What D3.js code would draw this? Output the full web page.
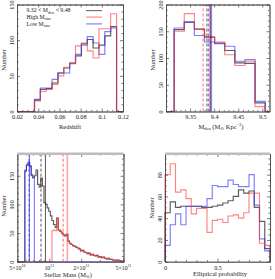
<!DOCTYPE html>
<html><head><meta charset="utf-8">
<script src="https://cdn.jsdelivr.net/npm/d3@7"></script>
<style>html,body{margin:0;padding:0;background:#fff;} svg{display:block;}</style>
</head><body>
<script>
// ---------------- DATA ----------------
// Panel 1: redshift histograms
const zBinStart = 0.0365, zBinWidth = 0.00553;
const zBlack = [16, 31, 32, 40, 54, 61, 68, 78, 95, 101, 89, 93, 106, 119];
const zRed   = [15, 28, 31, 38, 50, 62, 68, 92, 96, 85, 75, 116, 116, 137];
const zBlue  = [17, 33, 33, 45, 54, 54, 67, 80, 93, 105, 96, 80, 112, 117];
const zTicks = [0.02, 0.04, 0.06, 0.08, 0.10, 0.12];
const zTickLabels = ["0.02", "0.04", "0.06", "0.08", "0.1", "0.12"];
const zYTicks = [0, 50, 100, 150];

// Panel 2: density histograms
const dBinStart = 9.317, dBinWidth = 0.021;
const dBlack = [153, 167, 154, 139, 128, 114, 91, 90, 16];
const dRed   = [150, 183, 154, 139, 130, 106, 86, 94, 9];
const dBlue  = [156, 167, 142, 130, 127, 122, 94, 97, 19];
const dDashed = [{v: 9.377, c: "red"}, {v: 9.385, c: "black"}, {v: 9.388, c: "blue"}];
const dSolid  = [{v: 9.391, c: "red"}, {v: 9.3925, c: "black"}, {v: 9.3945, c: "blue"}];
const dTicks = [9.35, 9.40, 9.45, 9.50];
const dTickLabels = ["9.35", "9.4", "9.45", "9.5"];
const dYTicks = [0, 50, 100, 150, 200];

// Panel 3: stellar mass histograms (log10 bins)
const mLogStart = 10.77, mLogWidth = 0.015;
const mBlack = [158, 168, 172, 166, 150, 147, 150, 160, 135, 130, 146, 132, 103, 100, 94, 88, 80, 72,
  65, 60, 76, 55, 53, 50, 47, 45, 48, 36, 32, 30, 28, 27, 25, 24, 22, 19, 20, 17, 16, 14, 15, 12,
  13, 11, 10, 11, 8, 9, 7, 8, 6, 5, 6, 4, 4, 3, 3, 2, 3, 2, 1, 1];
const mBlueOffset = 0;
const mBlue = [160, 170, 174, 168, 152, 146];
const mRedOffset = 17;
const mRed = [54, 55, 54, 76, 55, 53, 50, 47, 45, 48, 36, 32, 30, 28, 27, 25, 24, 22, 19, 20,
  17, 16, 14, 15, 12, 13, 11, 10, 11, 8, 9, 7, 8, 6, 5, 6, 4, 4, 3, 3, 2, 3, 2, 1, 1];
const mDashed = [{v: 6.45e10, c: "blue"}, {v: 8.36e10, c: "black"}, {v: 1.35e11, c: "red"}];
const mSolid  = [{v: 6.5e10, c: "blue"}, {v: 9.2e10, c: "black"}, {v: 1.48e11, c: "red"}];
const mTicks = [5e10, 1e11, 2e11, 5e11];
const mTickLabels = [["5\u00d710", "10"], ["10", "11"], ["2\u00d710", "11"], ["5\u00d710", "11"]];
const mMinor = [6e10, 7e10, 8e10, 9e10, 3e11, 4e11];
const mYTicks = [0, 50, 100, 150];

// Panel 4: elliptical probability histograms
const pBinStart = 0, pBinWidth = 0.05;
const pBlack = [45, 55, 50, 51, 51, 51, 51, 50, 50, 51, 52, 54, 56, 60, 66, 63, 65, 50, 37, 12];
const pRed   = [80, 90, 64, 66, 58, 44, 49, 49, 27, 38, 39, 36, 42, 43, 40, 45, 63, 63, 17, 15];
const pBlue  = [15, 34, 44, 34, 51, 51, 51, 51, 58, 70, 69, 69, 75, 71, 69, 69, 80, 52, 21, 10];
const pTicks = [0, 0.5, 1];
const pTickLabels = ["0", "0.5", "1"];
const pYTicks = [0, 20, 40, 60, 80];

// ---------------- STYLE ----------------
const FONT = "'Liberation Serif', 'DejaVu Serif', serif";
const COL = {black: "#1e1e1e", red: "#ff3a3a", blue: "#2f2fff"};
const HOP = 0.62;
const FS = 6.2;
const TXT = "#1a1a1a";

const svg = d3.select("body").append("svg").attr("width", 275).attr("height", 279)
  .style("font-family", FONT);

function frame(g, x, y, o) {
  const [xa, xb] = x.range();
  const [ya, yb] = y.range();
  const mk = (fn, sc, vals, size, tr, fmt) => {
    const ax = fn(sc).tickValues(vals).tickSizeInner(size).tickSizeOuter(0).tickPadding(3)
      .tickFormat(fmt || (() => ""));
    return g.append("g").attr("transform", tr).call(ax);
  };
  const bx = mk(d3.axisBottom, x, o.xMajor, -3, `translate(0,${ya})`, o.xFmt);
  mk(d3.axisBottom, x, o.xMinor, -1.6, `translate(0,${ya})`);
  mk(d3.axisTop, x, o.xMajor, -3, `translate(0,${yb})`);
  mk(d3.axisTop, x, o.xMinor, -1.6, `translate(0,${yb})`);
  const ly = mk(d3.axisLeft, y, o.yMajor, -3, `translate(${xa},0)`, d => String(d));
  mk(d3.axisLeft, y, o.yMinor, -1.6, `translate(${xa},0)`);
  mk(d3.axisRight, y, o.yMajor, -3, `translate(${xb},0)`);
  mk(d3.axisRight, y, o.yMinor, -1.6, `translate(${xb},0)`);
  g.selectAll(".domain, .tick line").attr("stroke", "#444").attr("stroke-width", 0.7);
  g.selectAll("text").attr("font-family", FONT).attr("font-size", FS).attr("fill", TXT);
  bx.selectAll("text").attr("dy", "0.75em").attr("y", 3.2);
  ly.selectAll("text").attr("x", 0).attr("dy", 0).attr("text-anchor", "middle")
    .attr("transform", "translate(-3.4,0) rotate(-90)");
  if (o.thickTop) {
    g.append("line").attr("x1", xa).attr("x2", xb).attr("y1", yb - 0.3).attr("y2", yb - 0.3)
      .attr("stroke", "#bdbdbd").attr("stroke-width", 2.4);
  }
  g.append("text").attr("text-anchor", "middle").attr("font-size", FS + 0.3).attr("fill", TXT)
    .attr("transform", `translate(${xa - 11},${o.yLabelY}) rotate(-90)`).text("Number");
}

function hist(g, x, y, edges, counts, color, width) {
  const [d0, d1] = x.domain();
  const pts = [[d0, 0], [edges[0], 0]];
  counts.forEach((c, i) => { pts.push([edges[i], c]); pts.push([edges[i + 1], c]); });
  pts.push([edges[counts.length], 0]); pts.push([d1, 0]);
  g.append("path").attr("d", d3.line().x(d => x(d[0])).y(d => y(d[1]))(pts))
    .attr("fill", "none").attr("stroke", COL[color]).attr("stroke-opacity", color === "black" ? 0.72 : HOP)
    .attr("stroke-width", width || 1.15).attr("stroke-linejoin", "miter");
}
function vline(g, x, y, v, color, dashed, w, op) {
  const [ya, yb] = y.range();
  g.append("line").attr("x1", x(v)).attr("x2", x(v)).attr("y1", ya).attr("y2", yb)
    .attr("stroke", COL[color]).attr("stroke-opacity", op)
    .attr("stroke-width", w).attr("stroke-dasharray", dashed ? "3,2" : null);
}
const edgesLin = (start, w, n) => d3.range(n + 1).map(i => start + i * w);

// ---------------- PANEL 1 ----------------
{
  const g = svg.append("g");
  const x = d3.scaleLinear().domain([0.02, 0.12]).range([17, 123]);
  const y = d3.scaleLinear().domain([0, 150]).range([111.5, 4.5]);
  const e = edgesLin(zBinStart, zBinWidth, zBlack.length);
  hist(g, x, y, e, zBlack, "black");
  hist(g, x, y, e, zBlue, "blue");
  hist(g, x, y, e, zRed, "red");
  frame(g, x, y, {xMajor: zTicks, xMinor: d3.range(0.025, 0.12, 0.005).filter((d, i) => (i + 1) % 4 !== 0),
    xFmt: (d, i) => zTickLabels[i], yMajor: zYTicks, yMinor: d3.range(10, 150, 10).filter(d => d % 50),
    yLabelY: 60});
  g.append("text").attr("x", 70).attr("y", 128.5).attr("text-anchor", "middle")
    .attr("font-size", FS + 0.3).attr("fill", TXT).text("Redshift");
  const leg = [
    {c: "black", parts: [["9.32 < M", 0], ["den", 1], [" < 9.48", 0]], y: 12.3},
    {c: "red", parts: [["High M", 0], ["star", 1]], y: 18.8},
    {c: "blue", parts: [["Low M", 0], ["star", 1]], y: 25.6}
  ];
  leg.forEach(l => {
    const t = g.append("text").attr("x", 26.5).attr("y", l.y).attr("font-size", 5.8).attr("fill", TXT);
    l.parts.forEach(p => {
      const ts = t.append("tspan").text(p[0]);
      if (p[1]) ts.attr("font-size", 4.3).attr("dy", 1.3); else if (t.selectAll("tspan").size() > 1) ts.attr("dy", -1.3);
    });
    g.append("line").attr("x1", 86).attr("x2", 102).attr("y1", l.y - 1.7).attr("y2", l.y - 1.7)
      .attr("stroke", COL[l.c]).attr("stroke-opacity", HOP).attr("stroke-width", 1.15);
  });
}

// ---------------- PANEL 2 ----------------
{
  const g = svg.append("g");
  const x = d3.scaleLinear().domain([9.3, 9.515]).range([166, 269.5]);
  const y = d3.scaleLinear().domain([0, 200]).range([111.5, 4.5]);
  const e = edgesLin(dBinStart, dBinWidth, dBlack.length);
  hist(g, x, y, e, dBlack, "black");
  hist(g, x, y, e, dBlue, "blue");
  hist(g, x, y, e, dRed, "red");
  dDashed.forEach(d => vline(g, x, y, d.v, d.c, true, 1, 0.7));
  dSolid.forEach(d => vline(g, x, y, d.v, d.c, false, 1.3, 0.55));
  frame(g, x, y, {xMajor: dTicks, xMinor: d3.range(9.31, 9.515, 0.01).filter(d => Math.abs(d * 20 - Math.round(d * 20)) > 0.01),
    xFmt: (d, i) => dTickLabels[i], yMajor: dYTicks, yMinor: d3.range(10, 200, 10).filter(d => d % 50),
    yLabelY: 60});
  const t = g.append("text").attr("x", 221).attr("y", 128.5).attr("text-anchor", "middle")
    .attr("font-size", FS + 0.3).attr("fill", TXT);
  t.append("tspan").text("M");
  t.append("tspan").text("den").attr("font-size", 4.5).attr("dy", 1.3);
  t.append("tspan").text(" (M").attr("dy", -1.3);
  t.append("tspan").text("\u2299").attr("font-size", 4.5).attr("dy", 1.3);
  t.append("tspan").text(" Kpc").attr("dy", -1.3);
  t.append("tspan").text("\u22123").attr("font-size", 4.5).attr("dy", -2.4);
  t.append("tspan").text(")").attr("dy", 2.4);
}

// ---------------- PANEL 3 ----------------
{
  const g = svg.append("g");
  const x = d3.scaleLog().domain([5e10, 5e11]).range([17.3, 123.5]);
  const y = d3.scaleLinear().domain([0, 188]).range([261.7, 154]);
  const eAll = d3.range(mBlack.length + 1).map(i => Math.pow(10, mLogStart + i * mLogWidth));
  hist(g, x, y, eAll, mBlack, "black");
  hist(g, x, y, eAll.slice(mBlueOffset, mBlueOffset + mBlue.length + 1), mBlue, "blue");
  hist(g, x, y, eAll.slice(mRedOffset, mRedOffset + mRed.length + 1), mRed, "red");
  mDashed.forEach(d => vline(g, x, y, d.v, d.c, true, 1, 0.75));
  mSolid.forEach(d => vline(g, x, y, d.v, d.c, false, d.c === "red" ? 1.6 : 1, d.c === "red" ? 0.45 : 0.75));
  frame(g, x, y, {xMajor: mTicks, xMinor: mMinor, xFmt: null,
    yMajor: mYTicks, yMinor: d3.range(10, 188, 10).filter(d => d % 50), yLabelY: 206, thickTop: true});
  mTicks.forEach((v, i) => {
    const t = g.append("text").attr("x", x(v)).attr("y", 269.5).attr("text-anchor", "middle")
      .attr("font-size", FS - 0.3).attr("fill", TXT);
    t.append("tspan").text(mTickLabels[i][0]);
    t.append("tspan").text(mTickLabels[i][1]).attr("font-size", 4).attr("dy", -2.3);
  });
  const t = g.append("text").attr("x", 68).attr("y", 277).attr("text-anchor", "middle")
    .attr("font-size", FS + 0.3).attr("fill", TXT);
  t.append("tspan").text("Stellar Mass (M");
  t.append("tspan").text("\u2299").attr("font-size", 4.5).attr("dy", 1.3);
  t.append("tspan").text(")").attr("dy", -1.3);
}

// ---------------- PANEL 4 ----------------
{
  const g = svg.append("g");
  const x = d3.scaleLinear().domain([0, 1]).range([165, 270]);
  const y = d3.scaleLinear().domain([0, 99]).range([261.7, 154]);
  const e = edgesLin(pBinStart, pBinWidth, pBlack.length);
  hist(g, x, y, e, pBlack, "black");
  hist(g, x, y, e, pBlue, "blue");
  hist(g, x, y, e, pRed, "red");
  frame(g, x, y, {xMajor: pTicks, xMinor: [0.1, 0.2, 0.3, 0.4, 0.6, 0.7, 0.8, 0.9],
    xFmt: (d, i) => pTickLabels[i], yMajor: pYTicks,
    yMinor: d3.range(5, 99, 5).filter(d => d % 20), yLabelY: 208, thickTop: true});
  g.append("text").attr("x", 220).attr("y", 276).attr("text-anchor", "middle")
    .attr("font-size", FS + 0.3).attr("fill", TXT).text("Elliptical probability");
}
</script>
</body></html>
